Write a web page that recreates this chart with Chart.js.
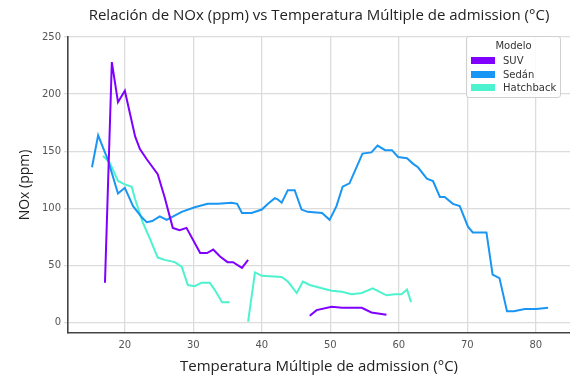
<!DOCTYPE html>
<html>
<head>
<meta charset="utf-8">
<script src="https://cdn.jsdelivr.net/npm/chart.js@4.4.1/dist/chart.umd.min.js"></script>
<style>
  html, body { margin: 0; padding: 0; background: #fff; }
  #wrap { position: relative; width: 570px; height: 379px; }
  #legend {
    position: absolute; left: 466px; top: 36px; width: 95px; height: 62px;
    border: 1px solid #d0d0d0; border-radius: 3px; background: rgba(255,255,255,0.85);
    font-family: "DejaVu Sans", sans-serif; font-size: 10px; color: #333; box-sizing: border-box;
  }
  #legend .ttl { text-align: center; margin-top: 3px; height: 14px; }
  #legend .row { position: relative; height: 13.5px; }
  #legend .sw { position: absolute; left: 4px; top: 3px; width: 24px; height: 7px; }
  #legend .lb { position: absolute; left: 36px; top: 0; line-height: 13px; }
</style>
</head>
<body>
<div id="wrap">
  <canvas id="noxChart"></canvas>
  <div id="legend"></div>
</div>
<script>
// Temperature (°C) and NOx (ppm) per vehicle model; null breaks the line
const suvTemp = [17.1, 18.1, 19.0, 20.0, 21.5, 22.2, 23.2, 24.8, 25.8, 27.0, 28.0, 29.0, 31.0, 32.0, 32.9, 33.9, 35.0, 35.8, 37.1, 38.0, 42.5, 47.0, 48.0, 50.2, 51.7, 54.6, 56.0, 58.2];
const suvNOx = [35, 228, 193, 203, 163, 152, 143, 130, 110, 83, 81, 83, 61, 61, 64, 58, 53, 53, 48, 55, null, 6, 11, 14, 13, 13, 9, 7];

const sedanTemp = [15.2, 16.1, 17.5, 19.0, 20.0, 21.2, 22.5, 23.2, 24.0, 25.1, 26.1, 28.3, 30.2, 32.1, 33.6, 35.6, 36.4, 37.1, 38.5, 40.0, 40.9, 41.9, 42.3, 42.9, 43.8, 44.8, 45.8, 46.7, 48.8, 49.9, 50.9, 51.8, 52.8, 53.9, 54.7, 56.0, 56.9, 58.0, 59.0, 59.9, 61.2, 62.1, 62.8, 64.1, 65.0, 66.0, 66.7, 67.9, 68.9, 70.1, 70.8, 72.8, 73.7, 74.7, 75.8, 76.8, 78.4, 80.1, 81.8];
const sedanNOx = [136, 164, 143, 113, 118, 102, 92, 88, 89, 93, 90, 97, 101, 104, 104, 105, 104, 96, 96, 99, 104, 109, 108, 105, 116, 116, 99, 97, 96, 90, 102, 119, 122, 137, 148, 149, 155, 151, 151, 145, 144, 139, 136, 126, 124, 110, 110, 104, 102, 84, 79, 79, 42, 39, 10, 10, 12, 12, 13];

const hatchTemp = [16.8, 17.8, 19.0, 20.0, 21.0, 21.5, 22.6, 23.7, 24.8, 25.8, 27.3, 28.3, 29.2, 30.2, 31.2, 32.4, 33.1, 34.2, 35.3, 36.6, 38.0, 39.0, 40.0, 42.9, 43.8, 45.1, 46.0, 47.0, 48.9, 50.2, 51.7, 53.1, 54.6, 56.2, 57.2, 58.2, 59.4, 60.4, 61.2, 61.8];
const hatchNOx = [146, 140, 124, 121, 119, 108, 88, 73, 57, 55, 53, 49, 33, 32, 35, 35, 29, 18, 18, null, 1, 44, 41, 40, 36, 26, 36, 33, 30, 28, 27, 25, 26, 30, 27, 24, 25, 25, 29, 18];

const models = ['SUV', 'Sedán', 'Hatchback'];
const modelColors = ['#8000ff', '#1996f3', '#4df3ce'];
const xTicks = [20, 30, 40, 50, 60, 70, 80];
const yTicks = [0, 50, 100, 150, 200, 250];

function toPoints(xs, ys) {
  return xs.map((x, i) => ({ x: x, y: ys[i] }));
}

const series = [toPoints(suvTemp, suvNOx), toPoints(sedanTemp, sedanNOx), toPoints(hatchTemp, hatchNOx)];

// legend box drawn in the top right corner of the plot
const legend = document.getElementById('legend');
legend.innerHTML = '<div class="ttl">Modelo</div>' + models.map((m, i) =>
  `<div class="row"><span class="sw" style="background:${modelColors[i]}"></span><span class="lb">${m}</span></div>`
).join('');

const ctx = document.getElementById('noxChart').getContext('2d');
new Chart(ctx, {
  type: 'line',
  data: {
    datasets: series.map((pts, i) => ({
      label: models[i],
      data: pts,
      borderColor: modelColors[i],
      backgroundColor: modelColors[i],
      borderWidth: 2,
      pointRadius: 0,
      tension: 0,
      spanGaps: false
    }))
  },
  options: {
    responsive: true,
    maintainAspectRatio: false,
    animation: false,
    plugins: {
      legend: { display: false },
      tooltip: { enabled: false },
      title: {
        display: true,
        fullSize: false,
        text: 'Relación de NOx (ppm) vs Temperatura Múltiple de admission (°C)',
        color: '#222',
        font: { family: 'Open Sans', size: 15, weight: 'normal' },
        padding: { top: 7, bottom: 12 }
      }
    },
    layout: { padding: 0 },
    scales: {
      x: {
        type: 'linear',
        min: 11.7,
        max: 85,
        afterFit: (scale) => { scale.height = 46; },
        afterBuildTicks: (scale) => { scale.ticks = xTicks.map(v => ({ value: v })); },
        grid: { color: '#dcdcdc', lineWidth: 1.3, drawTicks: false },
        border: { color: '#444', width: 1.6 },
        ticks: { color: '#555', padding: 6, font: { family: 'DejaVu Sans', size: 10 } },
        title: {
          display: true,
          text: 'Temperatura Múltiple de admission (°C)',
          color: '#222',
          font: { family: 'Open Sans', size: 15 },
          padding: { top: 0, bottom: 3 }
        }
      },
      y: {
        min: -9,
        max: 250,
        afterFit: (scale) => { scale.width = 68; },
        afterBuildTicks: (scale) => { scale.ticks = yTicks.map(v => ({ value: v })); },
        grid: { color: '#dcdcdc', lineWidth: 1.3, drawTicks: true, tickLength: 4 },
        border: { color: '#444', width: 1.6 },
        ticks: { color: '#555', padding: 3, font: { family: 'DejaVu Sans', size: 10 } },
        title: {
          display: true,
          text: 'NOx (ppm)',
          color: '#222',
          font: { family: 'Open Sans', size: 14 },
          padding: { top: 17, bottom: 0 }
        }
      }
    }
  }
});
</script>
</body>
</html>
